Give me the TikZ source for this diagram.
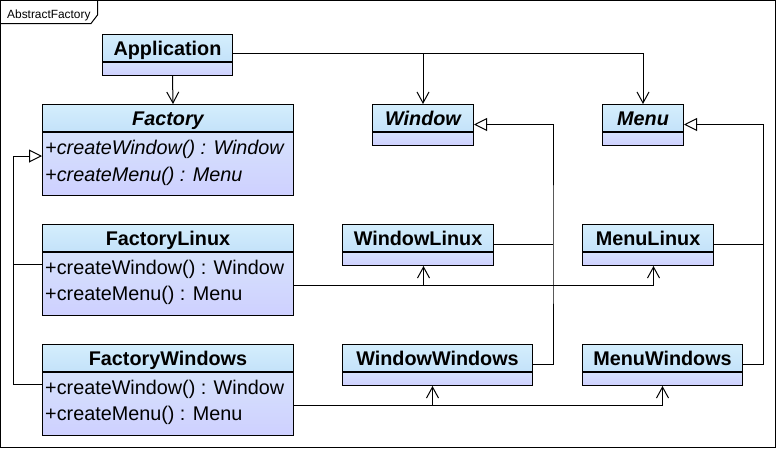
\documentclass[tikz,border=0pt]{standalone}
\usepackage{fontspec}
\setmainfont{Liberation Sans}
\usetikzlibrary{arrows.meta,calc}
\definecolor{hdtop}{RGB}{212,238,252}
\definecolor{hdbot}{RGB}{196,226,250}
\definecolor{bdtop}{RGB}{214,226,252}
\definecolor{bdbot}{RGB}{206,208,255}
\tikzset{
  hdr/.style={draw=black, line width=1pt, top color=hdtop, bottom color=hdbot,
    minimum height=27pt, inner sep=0pt, text height=15pt, text depth=0pt,
    font=\fontsize{19.8}{24}\selectfont\bfseries, anchor=north west},
  bdy/.style={draw=black, line width=1pt, top color=bdtop, bottom color=bdbot,
    inner sep=0pt, anchor=north},
  mth/.style={anchor=base west, inner sep=0pt, font=\fontsize{19.8}{24}\selectfont},
  conn/.style={draw=black, line width=1pt},
  assoc/.style={conn, -{Straight Barb[length=11pt,width=12pt]}},
  gen/.style={conn, -{Triangle[open,length=13pt,width=13pt,fill=white]}},
  framelbl/.style={anchor=base west, inner sep=0pt, font=\fontsize{11.9}{14}\selectfont}
}
\newcommand\umlcls[6]{%
  \node[hdr, minimum width=#4pt] (#1) at (#2,#3) {#6};
  \node[bdy, minimum width=#4pt, minimum height=#5pt] (#1-b) at (#1.south) {};
}
\begin{document}
\begin{tikzpicture}[x=1pt,y=-1pt]
\useasboundingbox (0,0) rectangle (776,448);
% frame
\draw[line width=1pt] (0.5,0.5) rectangle (775.5,447.5);
\draw[line width=1pt] (0.5,23.5) -- (91,23.5) -- (97.5,15) -- (97.5,0.5);
\node[framelbl] (lbl) at (7,18) {AbstractFactory};
% classes
\umlcls{app}{102}{34}{130}{13}{Application}
\umlcls{fac}{42}{104}{251}{63}{\itshape Factory}
\umlcls{win}{372}{104}{101}{13}{\itshape Window}
\umlcls{menu}{602}{104}{81}{13}{\itshape Menu}
\umlcls{fl}{42}{224}{251}{63}{FactoryLinux}
\umlcls{wl}{342}{224}{151}{13}{WindowLinux}
\umlcls{ml}{582}{224}{131}{13}{MenuLinux}
\umlcls{fw}{42}{344}{251}{63}{FactoryWindows}
\umlcls{ww}{342}{344}{190}{13}{WindowWindows}
\umlcls{mw}{582}{344}{160}{13}{MenuWindows}
% methods
\node[mth] (fac-m1) at ($(fac-b.north west)+(3,22)$) {\itshape +createWindow() : Window};
\node[mth] (fac-m2) at ($(fac-b.north west)+(3,49)$) {\itshape +createMenu() : Menu};
\node[mth] (fl-m1) at ($(fl-b.north west)+(3,22)$) {+createWindow() : Window};
\node[mth] (fl-m2) at ($(fl-b.north west)+(3,48)$) {+createMenu() : Menu};
\node[mth] (fw-m1) at ($(fw-b.north west)+(3,22)$) {+createWindow() : Window};
\node[mth] (fw-m2) at ($(fw-b.north west)+(3,48)$) {+createMenu() : Menu};
% Application -> Factory
\draw[assoc] ([xshift=5pt]app-b.south) -- ([xshift=5pt]fac.north);
% Application -> Window, Menu
\coordinate (aj) at ([yshift=-5.5pt]app.east);
\draw[assoc] (aj) -| (menu.north);
\draw[assoc] (aj -| win.north) -- (win.north);
% Factory generalization
\coordinate (gl) at ([xshift=-29pt,yshift=-12pt]fl-b.north west);
\draw[gen] ([yshift=-12pt]fl-b.north west) -- (gl) |- ([yshift=-24pt]fac-b.north west);
\draw[conn] ([yshift=-12pt]fw-b.north west) -| (gl);
% Window generalization
\coordinate (wj) at ([xshift=59pt,yshift=-6.5pt]wl.east);
\draw[gen] ([yshift=-6.5pt]ww.east) -| (wj) |- ([yshift=-6.5pt]win.east);
\draw[conn] ([yshift=-6.5pt]wl.east) -- (wj);
% Menu generalization
\coordinate (mj) at ([xshift=49pt,yshift=-6.5pt]ml.east);
\draw[gen] ([yshift=-6.5pt]mw.east) -| (mj) |- ([yshift=-6.5pt]menu.east);
\draw[conn] ([yshift=-6.5pt]ml.east) -- (mj);
% FactoryLinux dependencies
\coordinate (flj) at ([yshift=-33pt]fl-b.north east);
\coordinate (wlt) at ([xshift=5.5pt]wl-b.south);
\coordinate (mlt) at ([xshift=5.5pt]ml-b.south);
\draw[assoc] (flj) -| (mlt);
\draw[assoc] (flj -| wlt) -- (wlt);
% FactoryWindows dependencies
\coordinate (fwj) at ([yshift=-33pt]fw-b.north east);
\coordinate (wwt) at ([xshift=-5pt]ww-b.south);
\draw[assoc] (fwj) -| (mw-b.south);
\draw[assoc] (fwj -| wwt) -- (wwt);
\end{tikzpicture}
\end{document}
